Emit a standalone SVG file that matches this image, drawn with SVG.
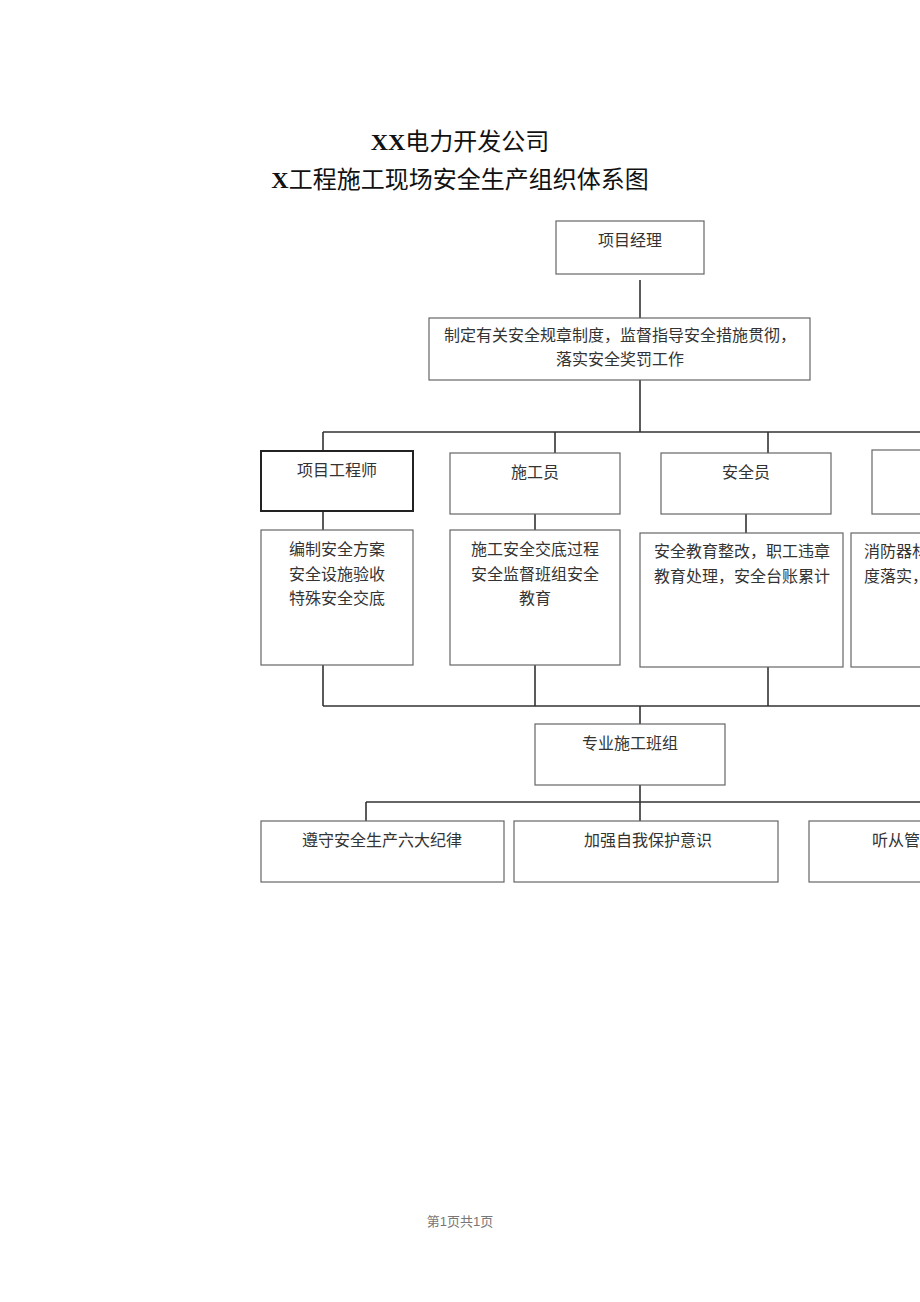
<svg xmlns="http://www.w3.org/2000/svg" width="920" height="1302" viewBox="0 0 920 1302">
<style>
.box{fill:#fff;stroke:#666;stroke-width:1.2}
.boxd{fill:#fff;stroke:#222;stroke-width:2}
.t{font-family:"Liberation Serif","Noto Sans CJK SC",serif;font-size:16px;fill:#333}
.c{text-anchor:middle}
.ln{stroke:#333;stroke-width:1.6;fill:none}
.title{font-family:"Liberation Serif","Noto Sans CJK SC",serif;font-size:24px;fill:#111;text-anchor:middle}
</style>
<rect width="920" height="1302" fill="#fff"/>
<g id="title">
<text class="title" x="460" y="150"><tspan font-weight="bold">XX</tspan>电力开发公司</text>
<text class="title" x="460" y="188"><tspan font-weight="bold">X</tspan>工程施工现场安全生产组织体系图</text>
</g>
<g id="connectors">
<path class="ln" d="M640 280V318M640 380V432M323 432H920M323 432V451M555 432V455M768 432V455"/>
<path class="ln" d="M323 505V530M535 507V530M746 507V533"/>
<path class="ln" d="M323 665V706M535 665V706M768 667V706M323 706H920M640 706V724"/>
<path class="ln" d="M640 785V821M366 802H920M366 802V826"/>
</g>
<g id="n_manager"><rect class="box" x="556" y="221" width="148" height="53"/><text class="t c" x="630" y="246">项目经理</text></g>
<g id="n_rules"><rect class="box" x="429" y="318" width="381" height="62"/><text class="t c" x="620" y="341">制定有关安全规章制度，监督指导安全措施贯彻，</text><text class="t c" x="620" y="365">落实安全奖罚工作</text></g>
<g id="n_engineer"><rect class="boxd" x="261" y="451" width="152" height="60"/><text class="t c" x="337" y="476">项目工程师</text></g>
<g id="n_builder"><rect class="box" x="450" y="453" width="170" height="61"/><text class="t c" x="535" y="478">施工员</text></g>
<g id="n_safety"><rect class="box" x="661" y="453" width="170" height="61"/><text class="t c" x="746" y="478">安全员</text></g>
<g id="n_fourth"><rect class="box" x="872" y="450" width="60" height="64"/></g>
<g id="n_eng_duty"><rect class="box" x="261" y="530" width="152" height="135"/><text class="t c" x="337" y="555">编制安全方案</text><text class="t c" x="337" y="580">安全设施验收</text><text class="t c" x="337" y="604">特殊安全交底</text></g>
<g id="n_bld_duty"><rect class="box" x="450" y="530" width="170" height="135"/><text class="t c" x="535" y="555">施工安全交底过程</text><text class="t c" x="535" y="580">安全监督班组安全</text><text class="t c" x="535" y="604">教育</text></g>
<g id="n_saf_duty"><rect class="box" x="640" y="533" width="203" height="134"/><text class="t" x="654" y="557">安全教育整改，职工违章</text><text class="t" x="654" y="582">教育处理，安全台账累计</text></g>
<g id="n_fire_duty"><rect class="box" x="851" y="533" width="80" height="134"/><text class="t" x="864" y="557">消防器材</text><text class="t" x="864" y="582">度落实，</text></g>
<g id="n_team"><rect class="box" x="535" y="724" width="190" height="61"/><text class="t c" x="630" y="749">专业施工班组</text></g>
<g id="n_obey"><rect class="box" x="261" y="821" width="243" height="61"/><text class="t c" x="382" y="846">遵守安全生产六大纪律</text></g>
<g id="n_protect"><rect class="box" x="514" y="821" width="264" height="61"/><text class="t c" x="648" y="846">加强自我保护意识</text></g>
<g id="n_listen"><rect class="box" x="809" y="821" width="130" height="61"/><text class="t" x="872" y="846">听从管</text></g>
<g id="footer"><text x="460" y="1226" text-anchor="middle" font-family="Liberation Sans,Noto Sans CJK SC,sans-serif" font-size="13" fill="#777">第1页共1页</text></g>
</svg>
